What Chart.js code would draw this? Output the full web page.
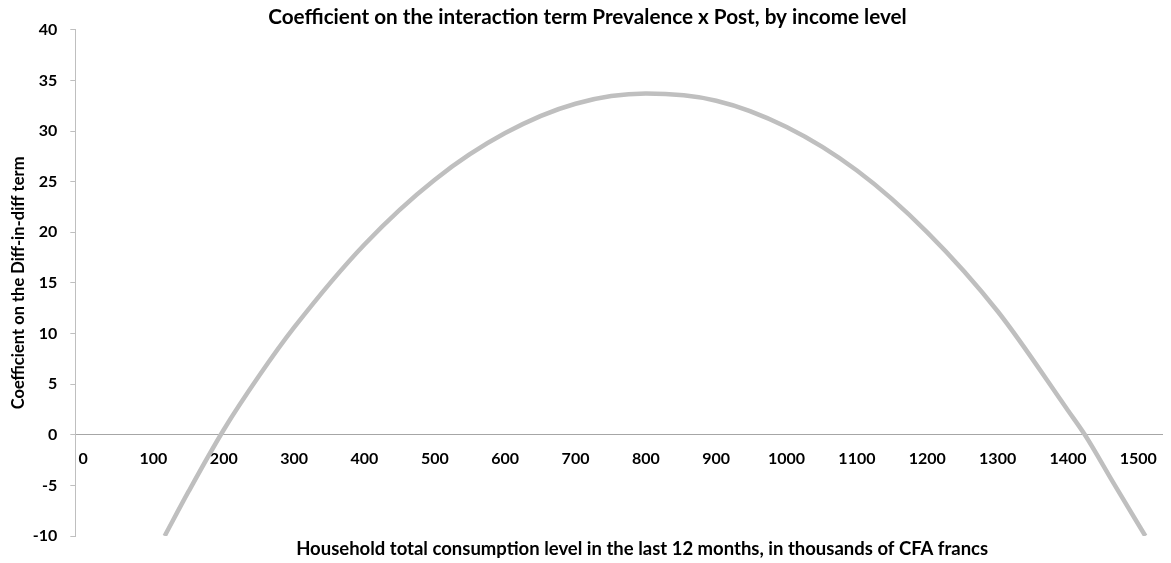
<!DOCTYPE html>
<html>
<head>
<meta charset="utf-8">
<script src="https://cdn.jsdelivr.net/npm/chart.js@4"></script>
<style>
  html, body { margin: 0; padding: 0; background: #fff; }
  #wrap { width: 1171px; height: 563px; }
</style>
</head>
<body>
<div id="wrap"><canvas id="chart"></canvas></div>
<script>
// values
const consumption = [116, 150, 200, 250, 300, 400, 500, 600, 700, 800, 900, 1000, 1100, 1200, 1300, 1400, 1424, 1465, 1510];
const coefficient = [-10, -5.6, 0.5, 5.8, 10.6, 18.8, 25.2, 29.8, 32.7, 33.7, 33.0, 30.4, 26.1, 20.0, 12.2, 2.4, 0, -4.8, -10];
const xTicks = [0, 100, 200, 300, 400, 500, 600, 700, 800, 900, 1000, 1100, 1200, 1300, 1400, 1500];
const xTitle = 'Household total consumption level in the last 12 months, in thousands of CFA francs';

const font = 'Lato, "Open Sans", sans-serif';
const points = consumption.map((x, i) => ({ x: x, y: coefficient[i] }));

// x axis title sits under the plot, a bit right of centre like the original
const xTitlePlugin = {
    id: 'xTitle',
    afterDraw(chart) {
        const c = chart.ctx;
        const area = chart.chartArea;
        c.save();
        c.font = 'bold 18.5px ' + font;
        c.fillStyle = '#000';
        c.textAlign = 'center';
        c.textBaseline = 'middle';
        c.fillText(xTitle, (area.left + area.right) / 2 + 23, 549);
        c.restore();
    }
};

const ctx = document.getElementById('chart').getContext('2d');
new Chart(ctx, {
    type: 'scatter',
    data: {
        datasets: [{
            data: points,
            showLine: true,
            borderColor: '#bfbfbf',
            borderWidth: 4.5,
            pointRadius: 0,
            cubicInterpolationMode: 'monotone',
            fill: false
        }]
    },
    options: {
        responsive: true,
        maintainAspectRatio: false,
        animation: false,
        layout: { padding: { left: 9, right: 5, top: 0, bottom: 27 } },
        plugins: {
            legend: { display: false },
            tooltip: { enabled: false },
            title: {
                display: true,
                text: 'Coefficient on the interaction term Prevalence x Post, by income level',
                color: '#000',
                font: { family: font, size: 20.7, weight: 'bold' },
                padding: { top: 5, bottom: 0 }
            }
        },
        scales: {
            x: {
                type: 'linear',
                position: { y: 0 },
                min: -11,
                max: 1535,
                afterBuildTicks: (scale) => { scale.ticks = xTicks.map(v => ({ value: v })); },
                grid: { display: true, drawOnChartArea: false, drawTicks: false },
                border: { display: true, color: '#a6a6a6', width: 1 },
                ticks: {
                    color: '#000',
                    font: { family: font, size: 16, weight: 'bold' },
                    padding: 14,
                    maxRotation: 0,
                    autoSkip: false,
                    callback: (v) => String(v)
                }
            },
            y: {
                min: -10,
                max: 40,
                afterFit: (scale) => { scale.width -= 9; },
                ticks: {
                    stepSize: 5,
                    color: '#000',
                    font: { family: font, size: 16, weight: 'bold' },
                    padding: 13
                },
                grid: { drawOnChartArea: false, drawTicks: true, tickLength: 5, color: '#bfbfbf' },
                border: { display: true, color: '#bfbfbf', width: 1 },
                title: {
                    display: true,
                    text: 'Coefficient on the Diff-in-diff term',
                    color: '#000',
                    font: { family: font, size: 16.5, weight: 'bold' },
                    padding: { top: 0, bottom: 0 }
                }
            }
        }
    },
    plugins: [xTitlePlugin]
});
</script>
</body>
</html>
